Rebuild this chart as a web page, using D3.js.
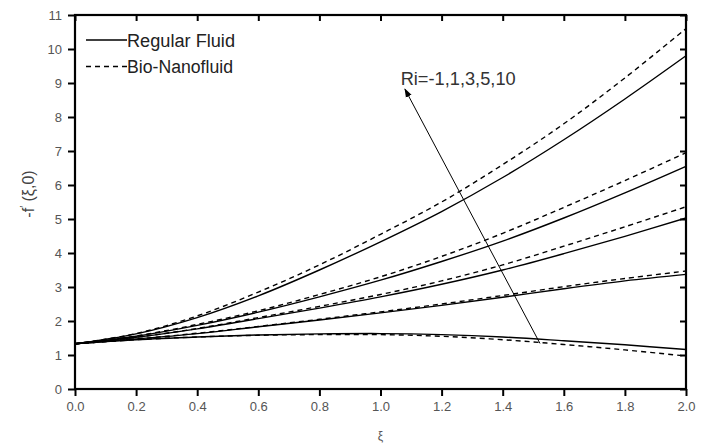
<!DOCTYPE html>
<html>
<head>
<meta charset="utf-8">
<script src="https://cdn.jsdelivr.net/npm/d3@7"></script>
<style>
  html, body { margin: 0; padding: 0; background: #fff; }
  svg { display: block; }
  text { font-family: "Liberation Sans", Arial, sans-serif; }
</style>
</head>
<body>
<svg id="chart" width="704" height="446"></svg>
<script>
// ξ sample points shared by every curve
const xi = [0, 0.2, 0.4, 0.6, 0.8, 1.0, 1.2, 1.4, 1.6, 1.8, 2.0];

// Richardson numbers, one curve pair per value
const riValues = [-1, 1, 3, 5, 10];

// -f'(ξ,0) for the regular fluid
const regularRiM1 = [1.33, 1.45, 1.53, 1.59, 1.62, 1.63, 1.60, 1.53, 1.42, 1.30, 1.16];
const regularRi1  = [1.33, 1.47, 1.63, 1.83, 2.03, 2.24, 2.46, 2.70, 2.95, 3.18, 3.37];
const regularRi3  = [1.33, 1.52, 1.77, 2.07, 2.38, 2.71, 3.08, 3.50, 3.98, 4.49, 5.03];
const regularRi5  = [1.33, 1.55, 1.87, 2.26, 2.71, 3.20, 3.75, 4.35, 5.03, 5.77, 6.55];
const regularRi10 = [1.33, 1.62, 2.10, 2.74, 3.50, 4.33, 5.22, 6.22, 7.33, 8.53, 9.80];

// -f'(ξ,0) for the bio-nanofluid
const bioRiM1 = [1.33, 1.45, 1.53, 1.58, 1.60, 1.60, 1.55, 1.45, 1.31, 1.15, 0.97];
const bioRi1  = [1.33, 1.47, 1.64, 1.84, 2.05, 2.27, 2.50, 2.75, 3.01, 3.25, 3.47];
const bioRi3  = [1.33, 1.52, 1.78, 2.10, 2.43, 2.78, 3.18, 3.65, 4.20, 4.77, 5.36];
const bioRi5  = [1.33, 1.56, 1.90, 2.30, 2.78, 3.30, 3.90, 4.58, 5.34, 6.13, 6.95];
const bioRi10 = [1.33, 1.63, 2.15, 2.85, 3.65, 4.55, 5.50, 6.60, 7.80, 9.15, 10.60];

const xTicks = [0, 0.2, 0.4, 0.6, 0.8, 1.0, 1.2, 1.4, 1.6, 1.8, 2.0];
const yTicks = [0, 1, 2, 3, 4, 5, 6, 7, 8, 9, 10, 11];

const legendLabels = ["Regular Fluid", "Bio-Nanofluid"];
const annotationText = "Ri=-1,1,3,5,10";
// arrow runs from the Ri=-1 end to the Ri=10 end (data coordinates)
const arrowFrom = [1.522, 1.34];
const arrowTo = [1.080, 8.82];

const regularSeries = [regularRiM1, regularRi1, regularRi3, regularRi5, regularRi10];
const bioSeries = [bioRiM1, bioRi1, bioRi3, bioRi5, bioRi10];

const svg = d3.select("#chart");
const margin = { left: 75, right: 18, top: 15, bottom: 57 };
const W = 704, H = 446;

const x = d3.scaleLinear().domain([0, 2]).range([margin.left, W - margin.right]);
const y = d3.scaleLinear().domain([0, 11]).range([H - margin.bottom, margin.top]);

const tickColor = "#000";
const labelColor = "#555";

// curves
const line = d3.line()
  .x((d, i) => x(xi[i]))
  .y(d => y(d))
  .curve(d3.curveCatmullRom.alpha(0.5));

const curves = svg.append("g").attr("fill", "none").attr("stroke", "#000").attr("stroke-width", 1.4);
regularSeries.forEach((s, k) => {
  curves.append("path").attr("class", "regular ri" + riValues[k]).attr("d", line(s));
});
bioSeries.forEach((s, k) => {
  curves.append("path").attr("class", "bio ri" + riValues[k])
    .attr("stroke-dasharray", "5,4").attr("d", line(s));
});

// axes
const xAxis = d3.axisBottom(x).tickValues(xTicks).tickSize(7).tickPadding(6).tickFormat(d3.format(".1f"));
const yAxis = d3.axisLeft(y).tickValues(yTicks).tickSize(7).tickPadding(6).tickFormat(d3.format("d"));
const xTop = d3.axisBottom(x).tickValues(xTicks).tickSize(6).tickFormat("");
const yRight = d3.axisLeft(y).tickValues(yTicks).tickSize(6).tickFormat("");

function styleAxis(g) {
  g.select(".domain").remove();
  g.selectAll(".tick line").attr("stroke", tickColor).attr("stroke-width", 2);
  g.selectAll(".tick text").attr("fill", labelColor).attr("font-size", 13);
}

svg.append("g").attr("transform", `translate(0,${y(0)})`).call(xAxis).call(styleAxis);
svg.append("g").attr("transform", `translate(${x(0)},0)`).call(yAxis).call(styleAxis);
// inward ticks on the top and right edges
svg.append("g").attr("transform", `translate(0,${y(11)})`).call(xTop).call(styleAxis);
svg.append("g").attr("transform", `translate(${x(2)},0)`).call(yRight).call(styleAxis);

// frame
svg.append("rect")
  .attr("x", x(0)).attr("y", y(11))
  .attr("width", x(2) - x(0)).attr("height", y(0) - y(11))
  .attr("fill", "none").attr("stroke", "#000").attr("stroke-width", 2.2);

// axis titles
svg.append("text")
  .attr("x", (x(0) + x(2)) / 2).attr("y", 440)
  .attr("text-anchor", "middle").attr("font-size", 12).attr("fill", labelColor)
  .text("ξ");

const yTitle = svg.append("text")
  .attr("transform", `translate(34,${(y(0) + y(11)) / 2 - 8}) rotate(-90)`)
  .attr("text-anchor", "middle").attr("font-size", 16).attr("fill", "#444");
yTitle.append("tspan").text("-f");
yTitle.append("tspan").attr("dy", -6).attr("font-size", 10).text("′");
yTitle.append("tspan").attr("dy", 6).text(" (ξ,0)");

// legend
const legend = svg.append("g");
legendLabels.forEach((label, i) => {
  const ly = 40 + i * 26.5;
  legend.append("line")
    .attr("x1", 86).attr("x2", 127).attr("y1", ly).attr("y2", ly)
    .attr("stroke", "#000").attr("stroke-width", 1.3)
    .attr("stroke-dasharray", i === 1 ? "5,4" : null);
  legend.append("text")
    .attr("x", 127).attr("y", ly + 6.5)
    .attr("font-size", 18).attr("fill", "#222")
    .attr("textLength", i === 0 ? 108 : 106).attr("lengthAdjust", "spacingAndGlyphs")
    .text(label);
});

// Ri annotation with arrow
const defs = svg.append("defs");
defs.append("marker")
  .attr("id", "arrowhead").attr("viewBox", "0 0 10 10")
  .attr("refX", 9).attr("refY", 5)
  .attr("markerWidth", 9).attr("markerHeight", 9)
  .attr("markerUnits", "userSpaceOnUse")
  .attr("orient", "auto")
  .append("path").attr("d", "M0,1.5 L10,5 L0,8.5 Z").attr("fill", "#000");

svg.append("line")
  .attr("x1", x(arrowFrom[0])).attr("y1", y(arrowFrom[1]))
  .attr("x2", x(arrowTo[0])).attr("y2", y(arrowTo[1]))
  .attr("stroke", "#000").attr("stroke-width", 1)
  .attr("marker-end", "url(#arrowhead)");

svg.append("text")
  .attr("x", x(1.066)).attr("y", y(8.94))
  .attr("font-size", 19).attr("fill", "#333")
  .attr("textLength", 115).attr("lengthAdjust", "spacingAndGlyphs")
  .text(annotationText);
</script>
</body>
</html>
